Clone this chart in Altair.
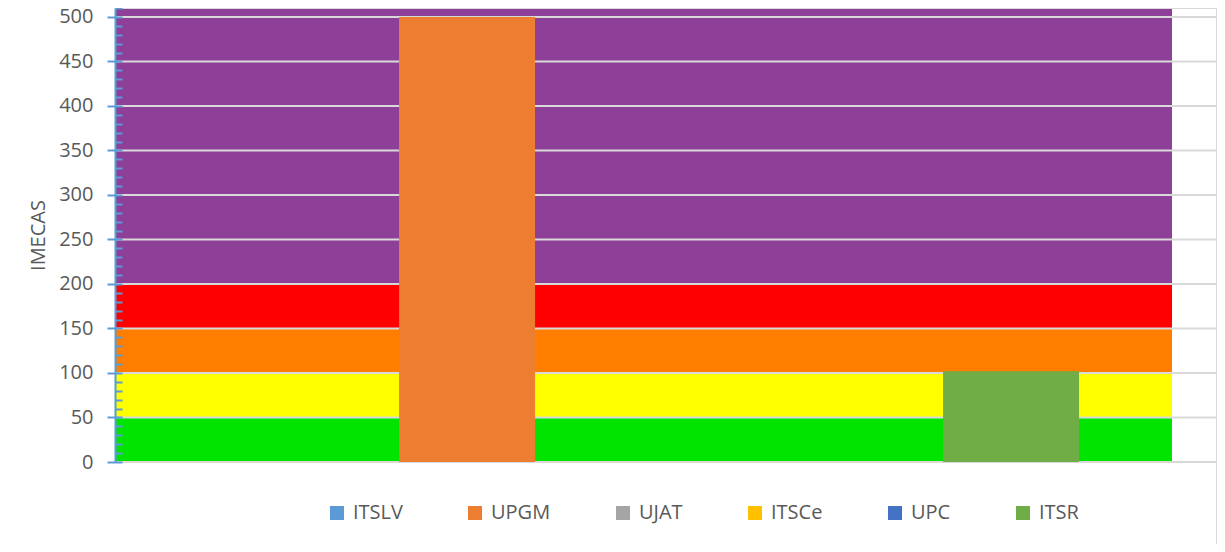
import altair as alt
import pandas as pd

# Series (bars)
categories = ["ITSLV", "UPGM", "UJAT", "ITSCe", "UPC", "ITSR"]
values = [0, 500, 0, 0, 0, 102]
colors = ["#5B9BD5", "#ED7D31", "#A5A5A5", "#FFC000", "#4472C4", "#70AD47"]

# IMECA background zones
zone_lo = [0, 50, 100, 150, 200]
zone_hi = [50, 100, 150, 200, 510]
zone_colors = ["#00E400", "#FFFF00", "#FF7E00", "#FF0000", "#8E3F97"]

major_ticks = list(range(0, 501, 50))
minor_ticks = list(range(0, 511, 10))
grid_vals = major_ticks + [510]

FONT = "Open Sans"
TXT = "#595959"

bars_df = pd.DataFrame({"cat": categories, "val": values})
zones_df = pd.DataFrame({"lo": zone_lo, "hi": zone_hi, "c": zone_colors})
grid_df = pd.DataFrame({"g": grid_vals})
minor_df = pd.DataFrame({"m": minor_ticks})

yscale = alt.Scale(domain=[0, 510], nice=False, zero=True)

zones = alt.Chart(zones_df).mark_rect().encode(
    x=alt.value(0),
    x2=alt.value(1057),
    y=alt.Y("lo:Q", scale=yscale,
            axis=alt.Axis(values=major_ticks, title="IMECAS", grid=False,
                          domainColor="#5B9BD5", domainWidth=2,
                          tickColor="#5B9BD5", tickWidth=2, tickSize=8,
                          labelFontSize=20, labelColor=TXT, labelFont=FONT,
                          labelPadding=14, titleFont=FONT, titleFontSize=20,
                          titleColor=TXT, titleFontWeight="normal",
                          titlePadding=10, zindex=1)),
    y2="hi:Q",
    color=alt.Color("c:N", scale=None),
)

grid = alt.Chart(grid_df).mark_rule(color="#D9D9D9", strokeWidth=2).encode(
    y=alt.Y("g:Q", scale=yscale, axis=None)
)

# one empty slot after the last category, as in the original layout
slot_domain = categories + [" "]

bars = alt.Chart(bars_df).mark_bar().encode(
    x=alt.X("cat:N", sort=categories, title=None,
            scale=alt.Scale(domain=slot_domain, paddingInner=0,
                            paddingOuter=0.5515, align=0.987),
            axis=None),
    y=alt.Y("val:Q", scale=yscale, stack=None, axis=None),
    color=alt.Color("cat:N", sort=categories,
                    scale=alt.Scale(domain=categories, range=colors),
                    legend=alt.Legend(title=None, orient="none", legendX=212,
                                      legendY=495, direction="horizontal",
                                      symbolType="square", symbolSize=196,
                                      symbolStrokeWidth=0, labelFontSize=20,
                                      labelFont=FONT, labelColor=TXT,
                                      labelOffset=6, columnPadding=62)),
)

minor = alt.Chart(minor_df).mark_point(opacity=0).encode(
    y=alt.Y("m:Q", scale=yscale,
            axis=alt.Axis(orient="right", offset=-1102, values=minor_ticks,
                          labels=False, domain=False, grid=False, title=None,
                          tickColor="#5B9BD5", tickWidth=2, tickSize=7,
                          zindex=1)),
)

# chart-area frame line on the right
frame = alt.Chart(pd.DataFrame({"f": [0]})).mark_rule(
    color="#D9D9D9", strokeWidth=2
).encode(x=alt.value(1102), y=alt.value(0), y2=alt.value(536))

chart = alt.layer(zones, grid, bars, minor, frame).resolve_axis(y="independent").properties(
    width=1102,
    height=454,
    autosize=alt.AutoSizeParams(type="none"),
    padding={"left": 107, "top": 0, "right": 0, "bottom": 82},
    background="white",
).configure_view(stroke=None)

chart.save("out.html", embed_options={"renderer": "svg", "actions": False})
